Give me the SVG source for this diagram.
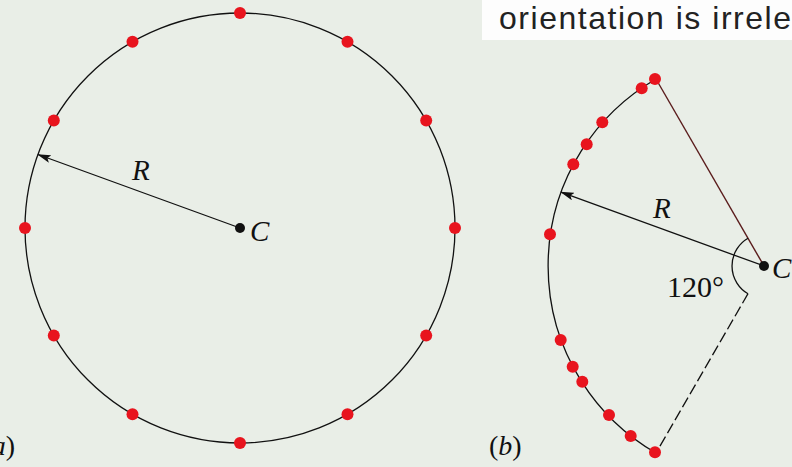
<svg xmlns="http://www.w3.org/2000/svg" width="792" height="467" viewBox="0 0 792 467">
<style>
.ln{fill:none;stroke:#111;stroke-width:1.3}
.dot{fill:#e8141e}
.ctr{fill:#111}
.it{font-family:"Liberation Serif",serif;font-style:italic;font-size:29px;fill:#111}
.rm{font-family:"Liberation Serif",serif;font-size:30px;fill:#111}
.lab{font-family:"Liberation Serif",serif;font-size:28px;fill:#111}
</style>
<defs>
<marker id="ah" viewBox="0 0 14 8" refX="13" refY="4" markerWidth="14" markerHeight="8" markerUnits="userSpaceOnUse" orient="auto">
<path d="M0,0 L14,4 L0,8 L3,4 Z" fill="#111"/>
</marker>
</defs>
<rect width="792" height="467" fill="#e9eee7"/>
<g id="caption">
<rect x="482" y="0" width="310" height="40" fill="#fdfdfd"/>
<text x="499" y="28.5" font-family="'Liberation Sans',Arial,sans-serif" font-size="32" fill="#222" textLength="292" lengthAdjust="spacing">orientation is irrele</text>
</g>
<g id="circle-a">
<circle class="ln" cx="240" cy="228" r="215"/>
<circle class="dot" cx="240" cy="13" r="6"/>
<circle class="dot" cx="347.5" cy="41.8" r="6"/>
<circle class="dot" cx="426.2" cy="120.5" r="6"/>
<circle class="dot" cx="455" cy="228" r="6"/>
<circle class="dot" cx="426.2" cy="335.5" r="6"/>
<circle class="dot" cx="347.5" cy="414.2" r="6"/>
<circle class="dot" cx="240" cy="443" r="6"/>
<circle class="dot" cx="132.5" cy="414.2" r="6"/>
<circle class="dot" cx="53.8" cy="335.5" r="6"/>
<circle class="dot" cx="25" cy="228" r="6"/>
<circle class="dot" cx="53.8" cy="120.5" r="6"/>
<circle class="dot" cx="132.5" cy="41.8" r="6"/>
</g>
<g id="sector-b">
<path class="ln" d="M656,79 A216,216 0 0 0 656,453"/>
<line x1="764" y1="266" x2="656" y2="79" stroke="#5a1c1c" stroke-width="1.4"/>
<path class="ln" d="M748,238.3 A32,32 0 0 0 748,293.7"/>
<line x1="748" y1="293.7" x2="656" y2="453" stroke="#111" stroke-width="1.3" stroke-dasharray="11 4"/>
<circle class="dot" cx="655" cy="79" r="6"/>
<circle class="dot" cx="641.7" cy="88.3" r="6"/>
<circle class="dot" cx="602.3" cy="122.3" r="6"/>
<circle class="dot" cx="586.7" cy="144.3" r="6"/>
<circle class="dot" cx="573.3" cy="164.3" r="6"/>
<circle class="dot" cx="550" cy="234.3" r="6"/>
<circle class="dot" cx="560.7" cy="340" r="6"/>
<circle class="dot" cx="572.7" cy="366.7" r="6"/>
<circle class="dot" cx="582.3" cy="381.7" r="6"/>
<circle class="dot" cx="609" cy="415" r="6"/>
<circle class="dot" cx="630.7" cy="436" r="6"/>
<circle class="dot" cx="655" cy="452.3" r="6"/>
</g>
<g id="connectors">
<line class="ln" x1="240" y1="228" x2="38" y2="154.5" marker-end="url(#ah)"/>
<line class="ln" x1="764" y1="266" x2="561" y2="192.1" marker-end="url(#ah)"/>
</g>
<g id="center-a">
<circle class="ctr" cx="240" cy="228" r="5"/>
<text class="it" x="250" y="241">C</text>
<text class="it" x="132" y="180">R</text>
</g>
<g id="center-b">
<circle class="ctr" cx="764" cy="266" r="5"/>
<text class="it" x="772" y="278">C</text>
<text class="it" x="653" y="218">R</text>
<text class="rm" x="667" y="297">120°</text>
</g>
<g id="labels">
<text class="lab" x="15" y="455" text-anchor="end">(<tspan font-style="italic">a</tspan>)</text>
<text class="lab" x="489" y="455">(<tspan font-style="italic">b</tspan>)</text>
</g>
</svg>
